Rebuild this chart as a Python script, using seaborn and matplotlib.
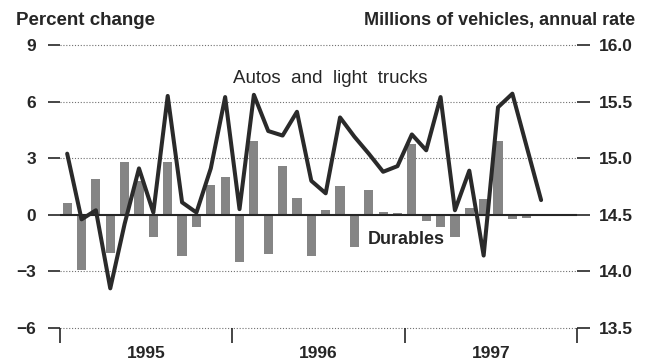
import numpy as np
import pandas as pd
import matplotlib
matplotlib.use("Agg")
import matplotlib.pyplot as plt
import seaborn as sns

# Monthly percent change in durable goods, Jan 1995 - Sep 1997
durables = [0.6, -2.9, 1.9, -2.0, 2.8, 1.8, -1.2, 2.8, -2.2, -0.65, 1.6, 2.0,
            -2.5, 3.9, -2.1, 2.6, 0.9, -2.2, 0.25, 1.55, -1.7, 1.3, 0.15, 0.1,
            3.75, -0.35, -0.65, -1.2, 0.35, 0.85, 3.9, -0.2, -0.15]

# Autos and light trucks sales, millions of units at annual rate, Jan 1995 - Oct 1997
autos = [15.04, 14.46, 14.54, 13.85, 14.42, 14.91, 14.52, 15.55, 14.61, 14.52, 14.91, 15.54,
         14.55, 15.56, 15.24, 15.20, 15.41, 14.80, 14.69, 15.36, 15.19, 15.04, 14.88, 14.93,
         15.21, 15.07, 15.54, 14.54, 14.89, 14.14, 15.45, 15.57, 15.10, 14.63]

years = ["1995", "1996", "1997"]
left_ticks = [-6, -3, 0, 3, 6, 9]
right_ticks = [13.5, 14.0, 14.5, 15.0, 15.5, 16.0]

sns.set_theme(style="white")
plt.rcParams["font.family"] = ["Liberation Sans", "DejaVu Sans"]
plt.rcParams["axes.unicode_minus"] = True

W, H = 652, 360
fig = plt.figure(figsize=(W / 100, H / 100), dpi=100)
fig.patch.set_facecolor("white")
ax = fig.add_axes([60 / W, 1 - 328 / H, (577 - 60) / W, (328 - 45) / H])

ink = "#262626"
bar_df = pd.DataFrame({"month": np.arange(len(durables)), "pct": durables})
sns.barplot(data=bar_df, x="month", y="pct", native_scale=True, color="#858585",
            saturation=1, width=0.64, edgecolor="none", ax=ax, zorder=2)

ax.set_xlim(-0.5, 35.5)
ax.set_ylim(-6, 9)
for v in [-6, -3, 3, 6, 9]:
    ax.axhline(v, color="#707070", lw=0.8, ls=(0, (1, 1.6)), zorder=0, clip_on=False)
ax.axhline(0, color=ink, lw=1.5, zorder=3)

for s in ax.spines.values():
    s.set_visible(False)

txt = dict(fontsize=12.5, fontweight="bold", color=ink)

ax.set_yticks(left_ticks)
ax.set_yticklabels([f"{t:d}".replace("-", "\u2212") for t in left_ticks], **txt)
ax.tick_params(axis="y", left=True, length=9, width=1.2, color=ink, pad=8, direction="out")

# Year boundaries as major ticks, year names centred as minor tick labels
ax.set_xticks([-0.5, 11.5, 23.5, 35.5])
ax.set_xticklabels([])
ax.set_xticks([5.5, 17.5, 29.5], minor=True)
ax.set_xticklabels(years, minor=True, **txt)
ax.tick_params(axis="x", which="major", bottom=True, length=11, width=1.2, color=ink, direction="out")
ax.tick_params(axis="x", which="minor", bottom=True, length=0, pad=13)
ax.set_xlabel("")
ax.set_ylabel("")

ax2 = ax.twinx()
sns.lineplot(x=np.arange(len(autos)), y=autos, ax=ax2, color="#2a2a2a", lw=2.9, zorder=4)
ax2.set_ylim(13.5, 16.0)
ax2.set_yticks(right_ticks)
ax2.set_yticklabels([f"{t:.1f}" for t in right_ticks], **txt)
ax2.tick_params(axis="y", right=True, length=9, width=1.2, color=ink, pad=7, direction="out")
ax2.set_ylabel("")
for s in ax2.spines.values():
    s.set_visible(False)

ax.text(11.55, 7.0, "Autos  and  light  trucks", fontsize=13.5, color=ink, va="baseline", ha="left")
ax.text(20.95, -1.55, "Durables", fontsize=13, fontweight="bold", color=ink, va="baseline", ha="left", zorder=5)

fig.text(16 / W, 1 - 25 / H, "Percent change", fontsize=13.5, fontweight="bold", color=ink, va="baseline")
fig.text(635 / W, 1 - 25 / H, "Millions of vehicles, annual rate", fontsize=13, fontweight="bold",
         color=ink, va="baseline", ha="right")

fig.savefig("out.png", dpi=100, facecolor="white")
